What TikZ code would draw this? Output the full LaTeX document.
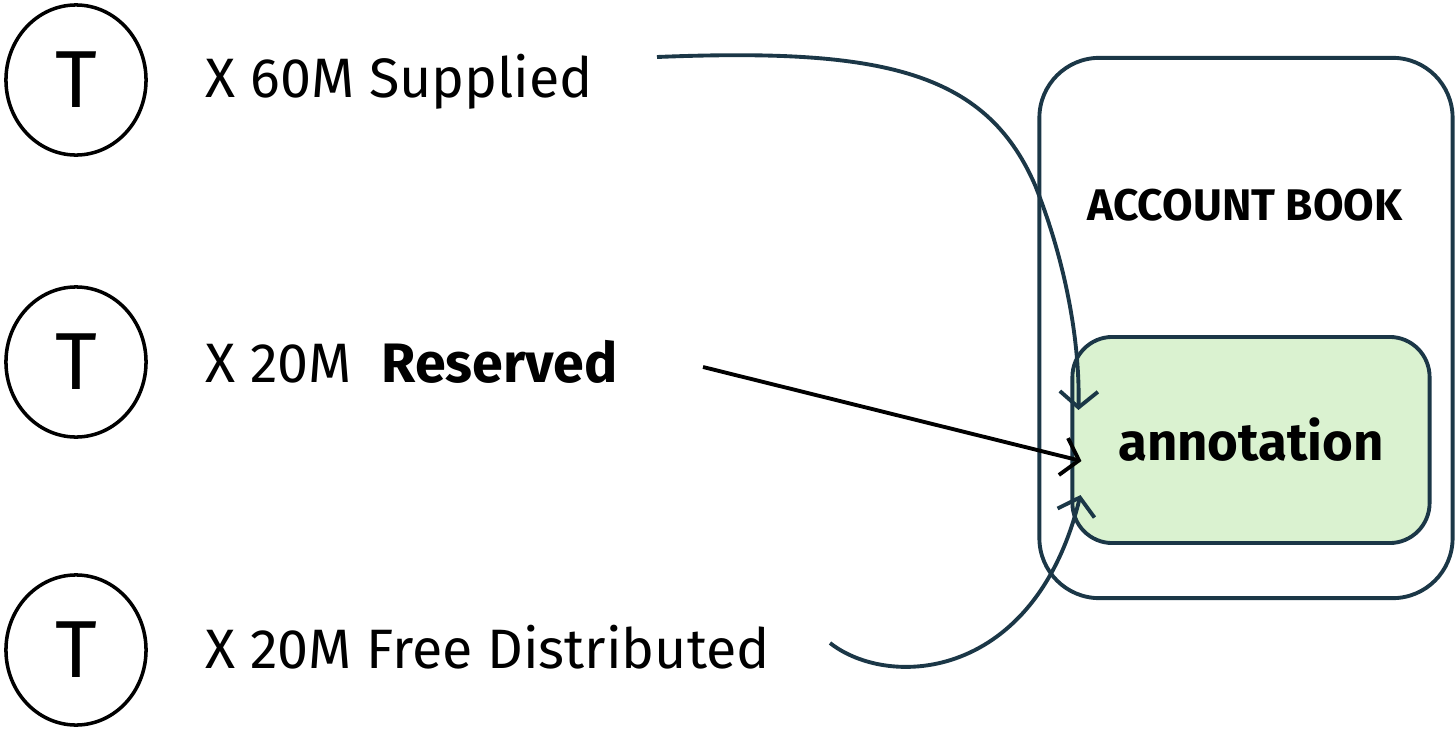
\documentclass[tikz,border=0pt]{standalone}
\usepackage{fontspec}
\setmainfont{Fira Sans}
\usepackage{tikz}
\usetikzlibrary{arrows.meta,positioning,shapes.geometric}

\definecolor{bookline}{HTML}{1B3747}
\definecolor{notefill}{HTML}{DAF2D0}

\begin{document}
\begin{tikzpicture}[
			x=0.01cm, y=-0.01cm,
			token/.style={ellipse, draw=black, line width=1pt, minimum width=1.4cm, minimum height=1.5cm, inner sep=0pt, font=\fontsize{23}{26}\selectfont},
			amount/.style={anchor=base west, inner sep=0pt, font=\fontsize{15.8}{18}\selectfont},
			book/.style={rectangle, rounded corners=0.6cm, draw=bookline, line width=1.1pt, minimum width=4.13cm, minimum height=5.4cm},
			note/.style={rectangle, rounded corners=0.4cm, draw=bookline, fill=notefill, line width=1.1pt, minimum width=3.57cm, minimum height=2.06cm, font=\bfseries\fontsize{15}{18}\selectfont},
			arrow/.style={line width=1.1pt, draw=bookline, -{Straight Barb[length=1.6mm,width=3.8mm]}}
		]
		\useasboundingbox (0,0) rectangle (1456,754);

		% Tokens
		\node (t1) [token] at (76,80) {T};
		\node (t2) [token] at (76,362) {T};
		\node (t3) [token] at (76,650) {T};

		% Amounts
		\node (supplied) [amount] at (205,97) {X 60M Supplied};
		\node (reserved) [amount] at (205,382) {X 20M\ \ \textbf{Reserved}};
		\node (free) [amount] at (205,668) {X 20M Free Distributed};

		% Account book
		\node (book) [book] at (1246,328) {};
		\node (booktitle) at (1245,205) {\bfseries\fontsize{12.6}{15}\selectfont ACCOUNT BOOK};
		\node (annot) [note] at (1251,440) {annotation};

		% Free ends
		\coordinate (s1) at (657,57);
		\coordinate (s2) at (703,367);
		\coordinate (s3) at (830,643);

		% Connections
		\draw [arrow] (s1) .. controls (880,48) and (985,70) .. (1035,185) .. controls (1065,260) and (1080,340) .. ([xshift=0.08cm,yshift=0.3cm]annot.west);
		\draw [arrow, draw=black] (s2) -- ([xshift=0.11cm,yshift=-0.21cm]annot.west);
		\draw [arrow] (s3) .. controls (890,690) and (1035,680) .. ([xshift=0.1cm,yshift=-0.55cm]annot.west);

	\end{tikzpicture}
\end{document}
